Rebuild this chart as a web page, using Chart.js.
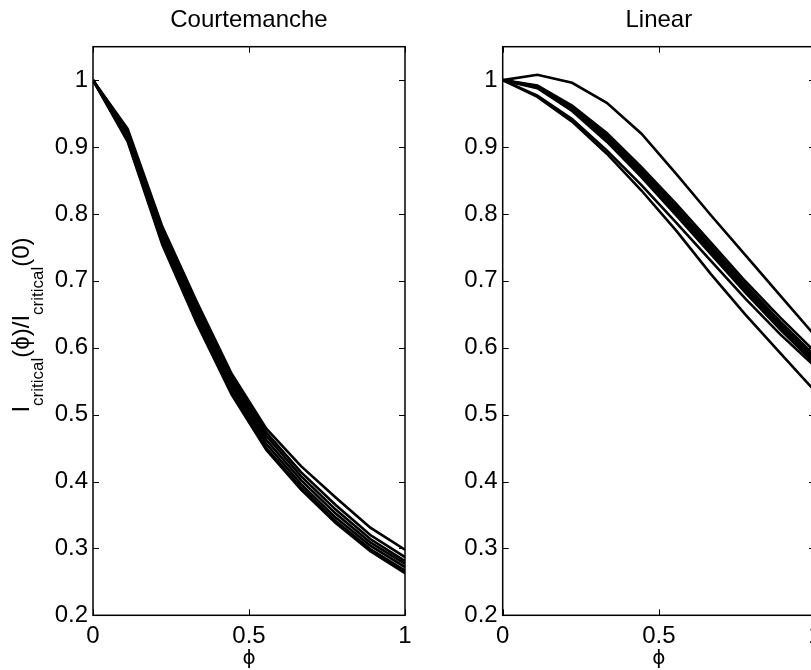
<!DOCTYPE html>
<html>
<head>
<meta charset="utf-8">
<script src="https://cdn.jsdelivr.net/npm/chart.js@4/dist/chart.umd.min.js"></script>
<style>
    html, body { margin: 0; padding: 0; background: #fff; overflow: hidden; }
    #wrap { position: relative; width: 811px; height: 670px; overflow: hidden; }
    #leftBox { position: absolute; left: 0; top: 0; width: 440px; height: 670px; }
    #rightBox { position: absolute; left: 440px; top: 0; width: 390px; height: 670px; }
</style>
</head>
<body>
<div id="wrap">
    <div id="leftBox"><canvas id="courtChart"></canvas></div>
    <div id="rightBox"><canvas id="linearChart"></canvas></div>
</div>
<script>
// phi sample points (10 samples from 0 to 1)
const phi = [0, 0.1111, 0.2222, 0.3333, 0.4444, 0.5556, 0.6667, 0.7778, 0.8889, 1];

// Courtemanche model, normalised critical current
const court0 = [1, 0.927, 0.781, 0.668, 0.561, 0.479, 0.423, 0.376, 0.331, 0.298];
const court1 = [1, 0.924, 0.777, 0.664, 0.557, 0.473, 0.414, 0.365, 0.320, 0.287];
const court2 = [1, 0.920, 0.772, 0.659, 0.552, 0.468, 0.408, 0.358, 0.314, 0.281];
const court3 = [1, 0.916, 0.767, 0.653, 0.547, 0.462, 0.402, 0.352, 0.309, 0.277];
const court4 = [1, 0.913, 0.762, 0.647, 0.542, 0.456, 0.396, 0.346, 0.304, 0.272];
const court5 = [1, 0.910, 0.757, 0.641, 0.536, 0.450, 0.391, 0.341, 0.299, 0.267];
const court6 = [1, 0.908, 0.754, 0.636, 0.530, 0.447, 0.388, 0.338, 0.296, 0.263];

// Linear model
const lin0 = [1, 1.008, 0.996, 0.966, 0.920, 0.860, 0.798, 0.738, 0.678, 0.618];
const lin1 = [1, 0.992, 0.962, 0.921, 0.870, 0.815, 0.757, 0.699, 0.645, 0.594];
const lin2 = [1, 0.991, 0.960, 0.917, 0.866, 0.810, 0.752, 0.694, 0.639, 0.588];
const lin3 = [1, 0.990, 0.958, 0.914, 0.862, 0.806, 0.748, 0.690, 0.635, 0.583];
const lin4 = [1, 0.989, 0.956, 0.911, 0.858, 0.802, 0.744, 0.686, 0.631, 0.579];
const lin5 = [1, 0.988, 0.954, 0.908, 0.855, 0.798, 0.740, 0.682, 0.627, 0.576];
const lin6 = [1, 0.977, 0.942, 0.895, 0.843, 0.787, 0.730, 0.673, 0.620, 0.572];
const lin7 = [1, 0.975, 0.938, 0.890, 0.835, 0.775, 0.710, 0.649, 0.592, 0.535];

const courtSeries = [court0, court1, court2, court3, court4, court5, court6];
const linSeries = [lin0, lin1, lin2, lin3, lin4, lin5, lin6, lin7];

const yTicks = [0.2, 0.3, 0.4, 0.5, 0.6, 0.7, 0.8, 0.9, 1];
const xTicks = [0, 0.5, 1];

const FONT = '"Liberation Sans", Arial, Helvetica, sans-serif';

function toDatasets(series) {
    return series.map(vals => ({
        data: vals.map((v, i) => ({ x: phi[i], y: v })),
        borderColor: '#000',
        borderWidth: 2.6,
        pointRadius: 0,
        tension: 0,
        fill: false,
    }));
}

// box + inward tick marks + titles, matlab style
const matlabAxes = {
    id: 'matlabAxes',
    afterDraw(chart, args, opts) {
        const { ctx, chartArea: a, scales } = chart;
        ctx.save();
        ctx.strokeStyle = '#000';
        ctx.lineWidth = 1;
        const tl = 6;
        ctx.beginPath();
        scales.y.ticks.forEach(t => {
            const py = Math.round(scales.y.getPixelForValue(t.value)) + 0.5;
            ctx.moveTo(a.left, py); ctx.lineTo(a.left + tl, py);
            ctx.moveTo(a.right, py); ctx.lineTo(a.right - tl, py);
        });
        scales.x.ticks.forEach(t => {
            const px = Math.round(scales.x.getPixelForValue(t.value)) + 0.5;
            ctx.moveTo(px, a.bottom); ctx.lineTo(px, a.bottom - tl);
            ctx.moveTo(px, a.top); ctx.lineTo(px, a.top + tl);
        });
        ctx.stroke();

        ctx.lineWidth = 1.5;
        ctx.strokeRect(a.left, a.top, a.right - a.left, a.bottom - a.top);

        const cx = (a.left + a.right) / 2;
        ctx.fillStyle = '#000';
        ctx.textAlign = 'center';
        ctx.textBaseline = 'alphabetic';
        ctx.font = '24px ' + FONT;
        ctx.fillText(opts.title, cx, 27);

        ctx.font = '20px "DejaVu Sans", ' + FONT;
        ctx.textBaseline = 'middle';
        ctx.fillText('\u03d5', cx, 659);

        if (opts.ylabel) {
            // I_critical(phi)/I_critical(0), drawn with subscripts
            const parts = [
                ['I', false], ['critical', true], ['(\u03d5)/I', false], ['critical', true], ['(0)', false]
            ];
            const mainFont = '24px ' + FONT;
            const subFont = '17px ' + FONT;
            let total = 0;
            parts.forEach(([s, sub]) => {
                ctx.font = sub ? subFont : mainFont;
                total += ctx.measureText(s).width;
            });
            ctx.translate(29, (a.top + a.bottom) / 2 - 6);
            ctx.rotate(-Math.PI / 2);
            ctx.textAlign = 'left';
            ctx.textBaseline = 'alphabetic';
            let x = -total / 2;
            parts.forEach(([s, sub]) => {
                ctx.font = sub ? subFont : mainFont;
                ctx.fillText(s, x, sub ? 14 : 0);
                x += ctx.measureText(s).width;
            });
        }
        ctx.restore();
    }
};

function makeChart(canvasId, series, title, yWidth, padRight, ylabel) {
    const ctx = document.getElementById(canvasId).getContext('2d');
    return new Chart(ctx, {
        type: 'line',
        data: { datasets: toDatasets(series) },
        options: {
            responsive: true,
            maintainAspectRatio: false,
            animation: false,
            layout: { padding: { left: 0, right: padRight, top: 46.7, bottom: 0 } },
            plugins: {
                legend: { display: false },
                tooltip: { enabled: false },
                matlabAxes: { title, ylabel },
            },
            scales: {
                x: {
                    type: 'linear',
                    min: 0,
                    max: 1,
                    grid: { display: false, drawTicks: false },
                    border: { display: false },
                    afterBuildTicks: scale => { scale.ticks = xTicks.map(v => ({ value: v })); },
                    afterFit: scale => { scale.height = 54.7; },
                    ticks: {
                        padding: 7,
                        color: '#000',
                        font: { family: FONT, size: 24 },
                        maxRotation: 0,
                        callback: v => String(v),
                    },
                },
                y: {
                    type: 'linear',
                    min: 0.2,
                    max: 1.05,
                    grid: { display: false, drawTicks: false },
                    border: { display: false },
                    afterBuildTicks: scale => { scale.ticks = yTicks.map(v => ({ value: v })); },
                    afterFit: scale => { scale.width = yWidth; },
                    ticks: {
                        padding: 5,
                        color: '#000',
                        font: { family: FONT, size: 24 },
                        callback: v => String(+v.toFixed(1)),
                    },
                },
            },
        },
        plugins: [matlabAxes],
    });
}

makeChart('courtChart', courtSeries, 'Courtemanche', 93, 35, true);
makeChart('linearChart', linSeries, 'Linear', 62.7, 15, false);
</script>
</body>
</html>
